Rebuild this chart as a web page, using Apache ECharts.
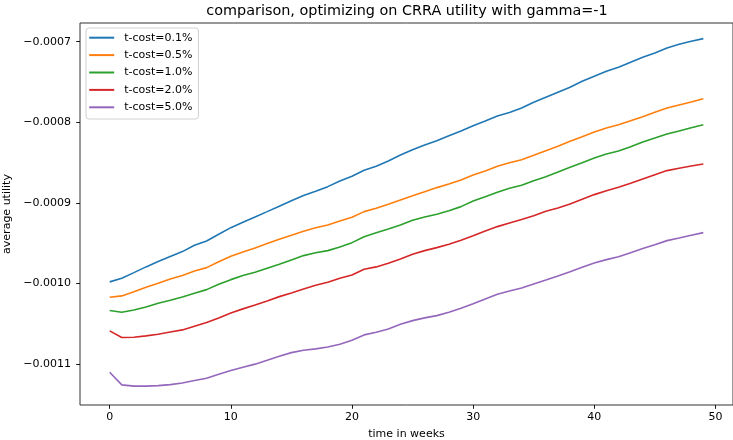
<!DOCTYPE html>
<html>
<head>
<meta charset="utf-8">
<script src="https://cdn.jsdelivr.net/npm/echarts@6/dist/echarts.min.js"></script>
<style>
html,body{margin:0;padding:0;background:#fff;}
#c{width:733px;height:440px;}
</style>
</head>
<body>
<div id="c"></div>
<script>
const weeks = Array.from({length: 50}, (_, i) => i);
const seriesNames = ['t-cost=0.1%', 't-cost=0.5%', 't-cost=1.0%', 't-cost=2.0%', 't-cost=5.0%'];
const colors = ['#1f77b4', '#ff7f0e', '#2ca02c', '#d62728', '#9467bd'];

const tcost01 = [-0.0009981,-0.0009936,-0.0009866,-0.0009795,-0.0009729,-0.0009667,-0.0009605,-0.0009526,-0.0009473,-0.0009390,
  -0.0009308,-0.0009241,-0.0009175,-0.0009109,-0.0009042,-0.0008973,-0.0008908,-0.0008855,-0.0008799,-0.0008728,
  -0.0008670,-0.0008596,-0.0008546,-0.0008480,-0.0008406,-0.0008340,-0.0008282,-0.0008228,-0.0008166,-0.0008108,
  -0.0008042,-0.0007984,-0.0007922,-0.0007878,-0.0007823,-0.0007752,-0.0007690,-0.0007628,-0.0007566,-0.0007491,
  -0.0007429,-0.0007367,-0.0007318,-0.0007256,-0.0007194,-0.0007140,-0.0007078,-0.0007032,-0.0006995,-0.0006962];
const tcost05 = [-0.0010171,-0.0010155,-0.0010102,-0.0010047,-0.0009998,-0.0009944,-0.0009903,-0.0009845,-0.0009804,-0.0009730,
  -0.0009663,-0.0009609,-0.0009560,-0.0009506,-0.0009452,-0.0009402,-0.0009352,-0.0009309,-0.0009274,-0.0009225,
  -0.0009179,-0.0009109,-0.0009067,-0.0009017,-0.0008964,-0.0008911,-0.0008861,-0.0008811,-0.0008765,-0.0008716,
  -0.0008654,-0.0008604,-0.0008546,-0.0008503,-0.0008464,-0.0008409,-0.0008352,-0.0008298,-0.0008236,-0.0008179,
  -0.0008120,-0.0008071,-0.0008030,-0.0007980,-0.0007931,-0.0007876,-0.0007823,-0.0007785,-0.0007748,-0.0007707];
const tcost10 = [-0.0010337,-0.0010357,-0.0010329,-0.0010292,-0.0010246,-0.0010209,-0.0010168,-0.0010122,-0.0010077,-0.0010010,
  -0.0009953,-0.0009903,-0.0009861,-0.0009811,-0.0009762,-0.0009708,-0.0009655,-0.0009620,-0.0009593,-0.0009547,
  -0.0009494,-0.0009420,-0.0009370,-0.0009324,-0.0009274,-0.0009216,-0.0009175,-0.0009141,-0.0009097,-0.0009047,
  -0.0008976,-0.0008923,-0.0008868,-0.0008818,-0.0008782,-0.0008725,-0.0008675,-0.0008617,-0.0008558,-0.0008501,
  -0.0008443,-0.0008393,-0.0008356,-0.0008303,-0.0008244,-0.0008195,-0.0008145,-0.0008108,-0.0008067,-0.0008030];
const tcost20 = [-0.0010589,-0.0010672,-0.0010668,-0.0010651,-0.0010630,-0.0010602,-0.0010577,-0.0010531,-0.0010486,-0.0010428,
  -0.0010366,-0.0010316,-0.0010267,-0.0010217,-0.0010164,-0.0010118,-0.0010068,-0.0010023,-0.0009985,-0.0009936,
  -0.0009895,-0.0009824,-0.0009795,-0.0009749,-0.0009696,-0.0009638,-0.0009593,-0.0009556,-0.0009514,-0.0009464,
  -0.0009407,-0.0009349,-0.0009295,-0.0009250,-0.0009208,-0.0009159,-0.0009104,-0.0009063,-0.0009014,-0.0008955,
  -0.0008898,-0.0008849,-0.0008806,-0.0008757,-0.0008703,-0.0008650,-0.0008600,-0.0008571,-0.0008542,-0.0008517];
const tcost50 = [-0.0011102,-0.0011259,-0.0011275,-0.0011275,-0.0011268,-0.0011256,-0.0011235,-0.0011206,-0.0011176,-0.0011127,
  -0.0011082,-0.0011040,-0.0011002,-0.0010953,-0.0010903,-0.0010859,-0.0010830,-0.0010812,-0.0010790,-0.0010754,
  -0.0010705,-0.0010639,-0.0010606,-0.0010565,-0.0010506,-0.0010462,-0.0010428,-0.0010400,-0.0010357,-0.0010308,
  -0.0010251,-0.0010192,-0.0010134,-0.0010095,-0.0010056,-0.0010006,-0.0009957,-0.0009907,-0.0009854,-0.0009799,
  -0.0009746,-0.0009705,-0.0009668,-0.0009618,-0.0009568,-0.0009519,-0.0009469,-0.0009436,-0.0009402,-0.0009370];

const xTicks = [0, 10, 20, 30, 40, 50];
const yTicks = [-0.0011, -0.0010, -0.0009, -0.0008, -0.0007];
const allSeries = [tcost01, tcost05, tcost10, tcost20, tcost50];

const FONT = 'DejaVu Sans';
const chart = echarts.init(document.getElementById('c'), null, {renderer: 'canvas'});

const option = {
  animation: false,
  backgroundColor: '#fff',
  graphic: [{
    type: 'text',
    x: 407, y: 11.5,
    style: {text: 'comparison, optimizing on CRRA utility with gamma=-1', font: '14.4px "DejaVu Sans"', fill: '#000', textAlign: 'center', textVerticalAlign: 'middle'}
  }],
  grid: {left: 80, right: 0, top: 23, bottom: 35, containLabel: false, outerBoundsMode: 'none',
    show: true, borderColor: '#333', borderWidth: 1, backgroundColor: 'transparent'},
  legend: {
    orient: 'vertical', left: 86, top: 28,
    data: seriesNames,
    icon: 'rect', itemWidth: 25, itemHeight: 2, itemGap: 4.4,
    padding: [3.2, 6, 5.2, 3.2],
    borderColor: '#d0d0d0', borderWidth: 1, borderRadius: 3,
    backgroundColor: 'rgba(255,255,255,0.8)',
    textStyle: {fontFamily: FONT, fontSize: 11, color: '#000', lineHeight: 13, padding: [0, 0, 0, 5]}
  },
  xAxis: {
    type: 'value', min: -2.45, max: 51.45,
    name: 'time in weeks', nameLocation: 'middle', nameGap: 24,
    nameTextStyle: {fontFamily: FONT, fontSize: 11, color: '#000'},
    splitLine: {show: false},
    axisLine: {show: false, onZero: false},
    axisTick: {show: true, length: 3.8, lineStyle: {color: '#000', width: 0.9}, customValues: xTicks},
    axisLabel: {fontFamily: FONT, fontSize: 11, color: '#000', margin: 7, customValues: xTicks, formatter: v => String(v)}
  },
  yAxis: {
    type: 'value', min: -0.0011509, max: -0.0006768,
    name: 'average utility', nameLocation: 'middle', nameGap: 60,
    nameTextStyle: {fontFamily: FONT, fontSize: 11, color: '#000'},
    splitLine: {show: false},
    axisLine: {show: false, onZero: false},
    axisTick: {show: true, length: 3.8, lineStyle: {color: '#000', width: 0.9}, customValues: yTicks},
    axisLabel: {fontFamily: FONT, fontSize: 11, color: '#000', margin: 9, customValues: yTicks,
      formatter: v => (v < 0 ? '\u2212' : '') + Math.abs(v).toFixed(4)}
  },
  series: allSeries.map((vals, i) => ({
    name: seriesNames[i],
    type: 'line',
    data: weeks.map((w, j) => [w, vals[j]]),
    showSymbol: false,
    symbol: 'none',
    lineStyle: {color: colors[i], width: 1.6},
    itemStyle: {color: colors[i]},
    z: 2 + i
  }))
};
chart.setOption(option);
</script>
</body>
</html>
